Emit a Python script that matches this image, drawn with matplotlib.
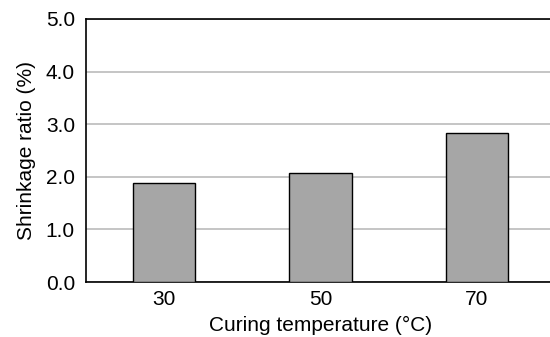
import numpy as np
import matplotlib.pyplot as plt

plt.rcParams['font.family'] = ['Liberation Sans', 'DejaVu Sans']

temps = ["30", "50", "70"]
shrinkage = [1.88, 2.08, 2.83]
y_ticks = [0.0, 1.0, 2.0, 3.0, 4.0, 5.0]

fig = plt.figure(figsize=(5.5, 3.37), dpi=100)
# axes runs off the right edge like in the original
ax = fig.add_axes([86 / 550, 1 - 282 / 337, 469 / 550, 263 / 337])

x = np.arange(len(temps))
ax.bar(x, shrinkage, width=0.4, color="#a6a6a6", edgecolor="black", linewidth=1.0, zorder=3)

ax.set_xlim(-0.5, 2.5)
ax.set_ylim(0, 5)
ax.set_yticks(y_ticks)
ax.set_yticklabels([f"{v:.1f}" for v in y_ticks], fontsize=15)
ax.set_xticks(x)
ax.set_xticklabels(temps, fontsize=15)
ax.tick_params(axis="y", length=0, pad=8)
ax.tick_params(axis="x", length=0, pad=6)
ax.yaxis.grid(True, color="#c0c0c0", linewidth=1.3, zorder=0)
ax.set_axisbelow(True)

ax.spines["right"].set_visible(False)
for s in ["left", "bottom", "top"]:
    ax.spines[s].set_linewidth(1.2)
    ax.spines[s].set_color("black")

ax.set_xlabel("Curing temperature (\u00b0C)", fontsize=15, labelpad=5)
ax.set_ylabel("Shrinkage ratio (%)", fontsize=15, labelpad=7)

fig.savefig("out.png", dpi=100)
